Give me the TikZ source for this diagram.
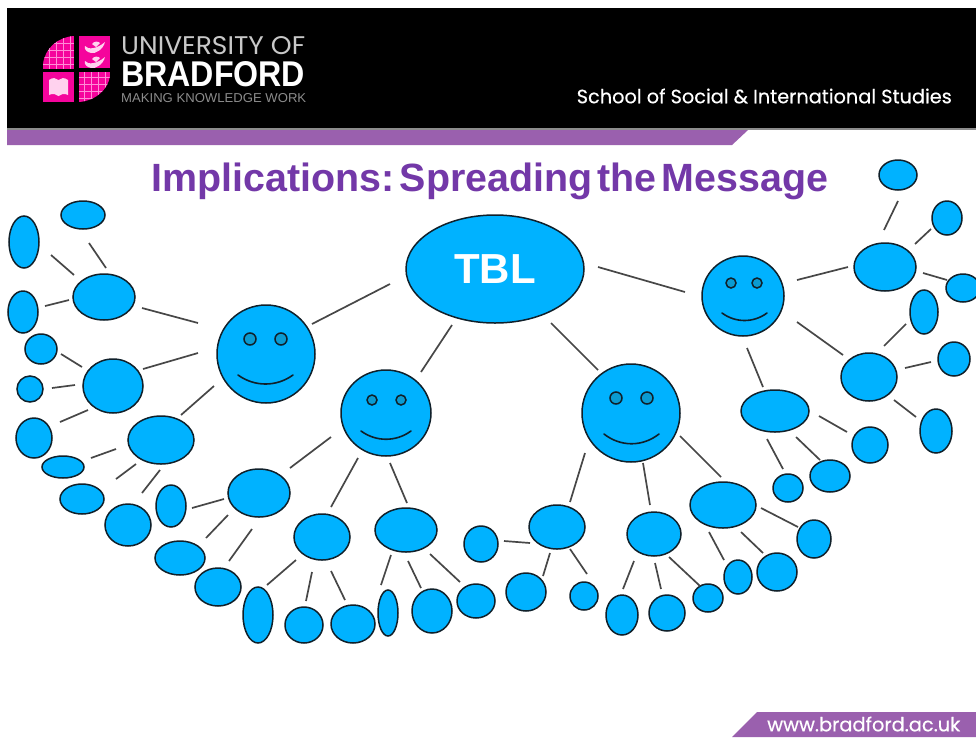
\documentclass[tikz,border=0pt]{standalone}
\usepackage{fontspec}
\usepackage{graphicx}
\setmainfont{Liberation Sans}
\newfontfamily\geofont{Poppins}
\newfontfamily\geobold[FakeBold=0.35]{Poppins}
\usetikzlibrary{shapes.geometric,calc}
\definecolor{bub}{HTML}{00B2FF}
\definecolor{bubeye}{HTML}{0A9BD2}
\definecolor{edgeink}{HTML}{10202A}
\definecolor{band}{HTML}{9A60AE}
\definecolor{titleink}{HTML}{7338A8}
\definecolor{logopink}{HTML}{F5049C}
\definecolor{logoline}{HTML}{FF8CD6}
\definecolor{logopale}{HTML}{FFD2EE}
\definecolor{greytext}{HTML}{C8C8C8}
\tikzset{
  bubble/.style={ellipse,draw=edgeink,line width=1.5pt,fill=bub,inner sep=0pt},
  conn/.style={draw=black!72,line width=1.7pt},
  eye/.style={circle,draw=edgeink,line width=1.5pt,fill=bubeye,inner sep=0pt},
  mouth/.style={draw=edgeink,line width=1.6pt,line cap=round},
  bandfill/.style={fill=band,draw=none},
  white text/.style={text=white,inner sep=0pt}
}
\newcommand{\ov}[5]{\node[bubble,minimum width=#4*2pt,minimum height=#5*2pt] (#1) at (#2,#3) {};}
\newcommand{\lk}[4]{\draw[conn] ([shift={(#3)}]#1.center) -- ([shift={(#4)}]#2.center);}
\newcommand{\face}[8]{%
  \node[eye,minimum size=#5*2pt] (#1l) at (#2,#3) {};
  \node[eye,minimum size=#5*2pt] (#1r) at (#4,#3) {};
  \draw[mouth] (#6) .. controls ($(#6)!0.3!(#7)+(0,#8)$) and ($(#6)!0.7!(#7)+(0,#8)$) .. (#7);}
\begin{document}
\begin{tikzpicture}[x=1pt,y=-1pt]
\useasboundingbox (0,0) rectangle (976,737);
\fill[white] (0,0) rectangle (976,737);
% header
\fill[black] (7,8) rectangle (976,128);
\fill[black!45] (7,128) rectangle (976,130);
\path[bandfill] (7,130) -- (748,130) -- (732,145) -- (7,145) -- cycle;
\path[bandfill] (757,712) -- (976,712) -- (976,737) -- (732,737) -- cycle;
% logo
\begin{scope}
\clip (43,69) -- (43,64) .. controls (45,48) and (58,37) .. (74,36) -- (74,69) -- cycle;
\fill[logopink] (43,36) rectangle (74,69);
\foreach \g in {49,56,63,70} \draw[logoline,line width=.5pt] (\g,36) -- (\g,69);
\foreach \g in {43,50,57,64} \draw[logoline,line width=.5pt] (43,\g) -- (74,\g);
\end{scope}
\fill[logopink] (79,36) rectangle (110,68);
\fill[logopink] (43,72) rectangle (74,102);
\begin{scope}
\clip (79,72) -- (110,72) -- (110,76) .. controls (108,90) and (95,101) .. (79,102) -- cycle;
\fill[logopink] (79,72) rectangle (110,102);
\foreach \g in {84,91,98,105} \draw[logoline,line width=.5pt] (\g,72) -- (\g,102);
\foreach \g in {77,84,91,98} \draw[logoline,line width=.5pt] (79,\g) -- (110,\g);
\end{scope}
\fill[logopale] (49,80) .. controls (53,77) and (56,78) .. (58.5,80) .. controls (61,78) and (64,77) .. (68,80) -- (68,95) .. controls (64,93) and (61,94) .. (58.5,96) .. controls (56,94) and (53,93) .. (49,95) -- cycle;
\foreach \yy in {0,15}{
  \fill[logopale] (85,46+\yy) .. controls (88,50+\yy) and (97,49+\yy) .. (105,42+\yy) .. controls (103,50+\yy) and (95,54+\yy) .. (91,53+\yy) .. controls (87,52+\yy) and (84,50+\yy) .. (85,46+\yy) -- cycle;
  \fill[logopale] (92,44+\yy) .. controls (94,41+\yy) and (98,41+\yy) .. (100,43+\yy) -- (96,47+\yy) -- cycle;
}
\node[text=greytext,inner sep=0pt,anchor=west] (uni) at (121,45.5) {\resizebox{184pt}{18pt}{\geofont UNIVERSITY OF}};
\node[text=white,inner sep=0pt,anchor=west] (brad) at (121,74) {\resizebox{184pt}{25pt}{\bfseries BRADFORD}};
\node[text=greytext!70!black,inner sep=0pt,anchor=west] (mkw) at (121,98) {\resizebox{185pt}{9pt}{MAKING KNOWLEDGE WORK}};
\node[white text,anchor=east] (school) at (952,96) {\resizebox{375pt}{!}{\geobold School of Social \& International Studies}};
\node[white text,anchor=west] (www) at (767,724) {\resizebox{193pt}{!}{\geobold www.bradford.ac.uk}};
\node[text=titleink,inner sep=0pt] (title) at (490,181) {\fontsize{39.4}{42}\selectfont\bfseries\frenchspacing\spaceskip=5pt Implications: Spreading the Message};
% central
\node[bubble,minimum width=178pt,minimum height=108pt,text=white,font=\fontsize{42}{44}\selectfont\bfseries] (tbl) at (495,269) {TBL};
\ov{A}{266}{354}{49}{49}
\ov{B}{386}{413}{45}{43}
\ov{C}{631}{413}{49}{49}
\ov{D}{743}{296}{41}{40}
\face{fa}{250}{339}{281}{6}{238,375}{293,375}{12}
\face{fb}{372}{400}{401}{5}{361,431}{411,431}{11}
\face{fc}{616}{398}{647}{6}{604,434}{659,434}{13}
\face{fd}{731}{283}{757}{5}{722,313}{767,313}{10}
% outer bubbles
\ov{aa}{104}{297}{31}{23}\ov{ab}{24}{242}{15}{26}\ov{ac}{83}{215}{22}{14}\ov{ad}{23}{312}{15}{21}
\ov{ae}{113}{386}{30}{27}\ov{af}{41}{349}{16}{15}\ov{ag}{30}{389}{13}{13}\ov{ah}{161}{440}{33}{24}
\ov{ai}{34}{438}{18}{20}\ov{aj}{63}{467}{21}{11}\ov{ak}{82}{499}{22}{15}\ov{al}{128}{525}{23}{21}
\ov{ba}{259}{493}{31}{24}\ov{bb}{171}{506}{15}{21}\ov{bc}{180}{558}{25}{17}\ov{bd}{218}{587}{23}{19}
\ov{be}{322}{537}{28}{23}\ov{bf}{258}{615}{15}{28}\ov{bg}{304}{625}{19}{18}\ov{bh}{353}{624}{22}{19}
\ov{bi}{406}{530}{31}{22}\ov{bj}{388}{613}{10}{23}\ov{bk}{432}{611}{20}{22}\ov{bl}{476}{601}{19}{17}
\ov{ca}{557}{527}{28}{22}\ov{cb}{481}{544}{17}{18}\ov{cc}{526}{592}{20}{19}\ov{cd}{584}{596}{14}{14}
\ov{ce}{654}{534}{27}{22}\ov{cf}{622}{615}{16}{20}\ov{cg}{667}{613}{18}{18}\ov{ch}{708}{598}{15}{14}
\ov{ci}{723}{505}{33}{23}\ov{cj}{738}{577}{14}{17}\ov{ck}{777}{572}{20}{19}\ov{cl}{814}{539}{17}{19}
\ov{da}{885}{267}{31}{24}\ov{db}{898}{175}{19}{15}\ov{dc}{947}{218}{15}{17}\ov{dd}{963}{288}{17}{14}
\ov{de}{869}{377}{28}{24}\ov{df}{924}{312}{14}{22}\ov{dg}{954}{359}{16}{17}\ov{dh}{936}{431}{16}{22}
\ov{di}{775}{411}{34}{21}\ov{dj}{788}{488}{15}{14}\ov{dk}{830}{476}{20}{16}\ov{dl}{870}{445}{18}{18}
% connectors: offsets from each node centre
\lk{tbl}{A}{-105,15}{46,-30}
\lk{tbl}{B}{-43,56}{35,-41}
\lk{tbl}{C}{56,54}{-33,-43}
\lk{tbl}{D}{103,-2}{-58,-4}
\lk{A}{aa}{-68,-31}{38,11}
\lk{A}{ae}{-68,-1}{30,-17}
\lk{A}{ah}{-52,32}{20,-25}
\lk{aa}{ab}{-30,-22}{27,13}
\lk{aa}{ac}{2,-29}{6,28}
\lk{aa}{ad}{-35,3}{22,-6}
\lk{ae}{af}{-31,-19}{20,5}
\lk{ae}{ag}{-38,-1}{22,-1}
\lk{ae}{ai}{-25,24}{26,-16}
\lk{ah}{aj}{-45,9}{28,-9}
\lk{ah}{ak}{-25,24}{34,-20}
\lk{ah}{al}{-1,30}{14,-32}
\lk{B}{ba}{-55,24}{31,-25}
\lk{B}{be}{-28,45}{9,-30}
\lk{B}{bi}{4,50}{1,-27}
\lk{ba}{bb}{-35,6}{21,2}
\lk{ba}{bc}{-31,22}{26,-20}
\lk{ba}{bd}{-7,36}{11,-26}
\lk{be}{bf}{-26,23}{9,-30}
\lk{be}{bg}{-10,35}{2,-24}
\lk{be}{bh}{9,34}{-8,-24}
\lk{bi}{bj}{-15,25}{-7,-28}
\lk{bi}{bk}{2,31}{-11,-23}
\lk{bi}{bl}{24,24}{-16,-19}
\lk{C}{ca}{-46,40}{13,-25}
\lk{C}{ce}{12,50}{-4,-29}
\lk{C}{ci}{49,23}{-2,-28}
\lk{ca}{cb}{-27,16}{23,-3}
\lk{ca}{cc}{-7,26}{17,-16}
\lk{ca}{cd}{13,22}{3,-22}
\lk{ce}{cf}{-20,27}{1,-26}
\lk{ce}{cg}{1,29}{-6,-24}
\lk{ce}{ch}{15,23}{-8,-12}
\lk{ci}{cj}{-14,27}{-14,-17}
\lk{ci}{ck}{18,27}{-14,-19}
\lk{ci}{cl}{38,3}{-16,-12}
\lk{D}{da}{54,-16}{-37,0}
\lk{D}{de}{54,26}{-26,-22}
\lk{D}{di}{4,52}{-12,-24}
\lk{da}{db}{13,-66}{-14,55}
\lk{da}{dc}{46,-38}{-32,26}
\lk{da}{dd}{38,6}{-16,-8}
\lk{de}{df}{37,-53}{-40,34}
\lk{de}{dg}{36,-9}{-23,3}
\lk{de}{dh}{25,23}{-20,-14}
\lk{di}{dj}{-8,28}{-5,-19}
\lk{di}{dk}{21,26}{-10,-16}
\lk{di}{dl}{44,5}{-23,-13}
\end{tikzpicture}
\end{document}
